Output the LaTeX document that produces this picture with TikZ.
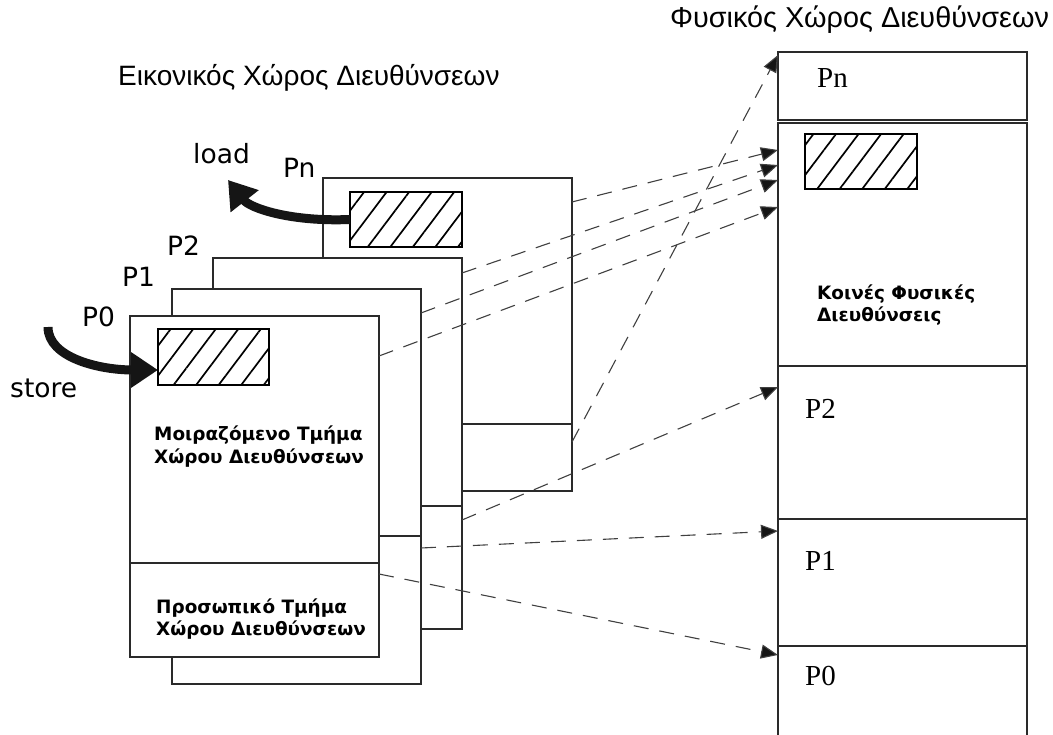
\documentclass[tikz,border=0pt]{standalone}
\usepackage{fontspec}
\setmainfont{Liberation Serif}
\newfontfamily\titlefont{Liberation Sans}
\newfontfamily\labfont{DejaVu Sans}
\usetikzlibrary{arrows.meta,patterns.meta}
\definecolor{boxc}{HTML}{2A2A2A}
\definecolor{dashc}{HTML}{404040}
\definecolor{arrc}{HTML}{151515}
\begin{document}
\begin{tikzpicture}[x=1pt,y=-1pt,
  vbox/.style={draw=boxc, fill=white, line width=1.4pt, inner sep=0pt, outer sep=0pt, anchor=north west, minimum width=249pt},
  cell/.style={draw=boxc, line width=1.4pt, inner sep=0pt, outer sep=0pt, anchor=north west, minimum width=249pt},
  hatchbox/.style={draw=black, line width=1.5pt, inner sep=0pt, outer sep=0pt, anchor=north west, minimum width=112pt, minimum height=55pt, pattern={Lines[angle=53,distance=18pt,line width=1.7pt]}},
  divline/.style={draw=boxc, line width=1.4pt},
  maplink/.style={draw=dashc, line width=1.1pt, dash pattern=on 15pt off 11pt, -{Triangle[length=17pt,width=14pt,fill=arrc]}},
  bigarrow/.style={draw=arrc, line width=9pt, -{Triangle[length=27pt,width=34pt]}},
  titletext/.style={inner sep=0pt, anchor=base west, font=\titlefont\fontsize{28}{32}\selectfont},
  labtext/.style={inner sep=0pt, anchor=base west, font=\labfont\fontsize{26.5}{30}\selectfont},
  serlab/.style={inner sep=0pt, anchor=base west, font=\fontsize{29}{32}\selectfont},
  boldtext/.style={inner sep=0pt, anchor=base west, font=\labfont\bfseries\fontsize{18.4}{23}\selectfont}
]
\useasboundingbox (0,0) rectangle (1053,735);

% titles
\node[titletext] (vtitle) at (118,86) {Εικονικός Χώρος Διευθύνσεων};
\node[titletext, font=\titlefont\fontsize{28.8}{32}\selectfont] (ptitle) at (670,28) {Φυσικός Χώρος Διευθύνσεων};

% virtual address spaces (back to front)
\node[vbox, minimum height=313pt] (pn) at (323,178) {};
\draw[divline] ([yshift=67pt]pn.south west) -- ([yshift=67pt]pn.south east);
\node[hatchbox] (pnh) at (350,192) {};
\node[vbox, minimum height=371pt] (p2) at (213,258) {};
\draw[divline] ([yshift=123pt]p2.south west) -- ([yshift=123pt]p2.south east);
\node[vbox, minimum height=395pt] (p1) at (172,289) {};
\draw[divline] ([yshift=148pt]p1.south west) -- ([yshift=148pt]p1.south east);
\node[vbox, minimum height=341pt] (p0) at (130,316) {};
\draw[divline] ([yshift=94pt]p0.south west) -- ([yshift=94pt]p0.south east);
\node[hatchbox, minimum width=111pt, minimum height=56pt] (p0h) at (158,329) {};

\node[boldtext] (shareda) at (154,440) {Μοιραζόμενο Τμήμα};
\node[boldtext] (sharedb) at (154,463) {Χώρου Διευθύνσεων};
\node[boldtext] (privatea) at (156,613) {Προσωπικό Τμήμα};
\node[boldtext] (privateb) at (156,635) {Χώρου Διευθύνσεων};

% labels
\node[labtext] (lpn) at (283,178) {Pn};
\node[labtext] (lp2) at (167,256) {P2};
\node[labtext] (lp1) at (122,287) {P1};
\node[labtext] (lp0) at (82,327) {P0};
\node[labtext] (lload) at (193,164) {load};
\node[labtext] (lstore) at (10,398) {store};

% physical address space
\node[cell, minimum height=68pt] (rpn) at (778,52) {};
\node[cell, minimum height=243pt] (rsh) at (778,123) {};
\node[cell, minimum height=153pt] (rp2) at (778,366) {};
\node[cell, minimum height=127pt] (rp1) at (778,519) {};
\node[inner sep=0pt, outer sep=0pt, anchor=north west, minimum width=249pt, minimum height=89pt] (rp0) at (778,646) {};
\draw[divline] (rp0.south west) -- (rp0.north west) -- (rp0.north east) -- (rp0.south east);
\node[hatchbox] (rshh) at (805,134) {};
\node[boldtext] (commona) at (817,300) {Κοινές Φυσικές};
\node[boldtext] (commonb) at (817,322) {Διευθύνσεις};

\node[serlab] (spn) at (817,88) {Pn};
\node[serlab] (sp2) at (805,418) {P2};
\node[serlab] (sp1) at (805,570) {P1};
\node[serlab] (sp0) at (805,685) {P0};

% load / store arrows
\coordinate (loadtip) at (228,180);
\draw[bigarrow] (pnh.west) .. controls (290,222) and (250,208) .. (loadtip);
\coordinate (storestart) at (48,327);
\draw[bigarrow] (storestart) .. controls (48,358) and (100,370) .. ([yshift=-13pt]p0h.west);

% mapping arrows
\draw[maplink] ([yshift=-24pt]pn.north east) -- ([yshift=-27pt]rsh.north west);
\draw[maplink] ([yshift=-15pt]p2.north east) -- ([yshift=-42pt]rsh.north west);
\draw[maplink] ([yshift=-24pt]p1.north east) -- ([yshift=-57pt]rsh.north west);
\draw[maplink] ([yshift=-40pt]p0.north east) -- ([yshift=-84pt]rsh.north west);
\draw[maplink] ([yshift=-264pt]pn.north east) -- ([yshift=-3pt]rpn.north west);
\draw[maplink] ([yshift=-262pt]p2.north east) -- ([yshift=-21pt]rp2.north west);
\draw[maplink] ([yshift=-259pt]p1.north east) -- ([yshift=-12pt]rp1.north west);
\draw[maplink] ([yshift=-258pt]p0.north east) -- ([yshift=-9pt]rp0.north west);
\end{tikzpicture}
\end{document}
